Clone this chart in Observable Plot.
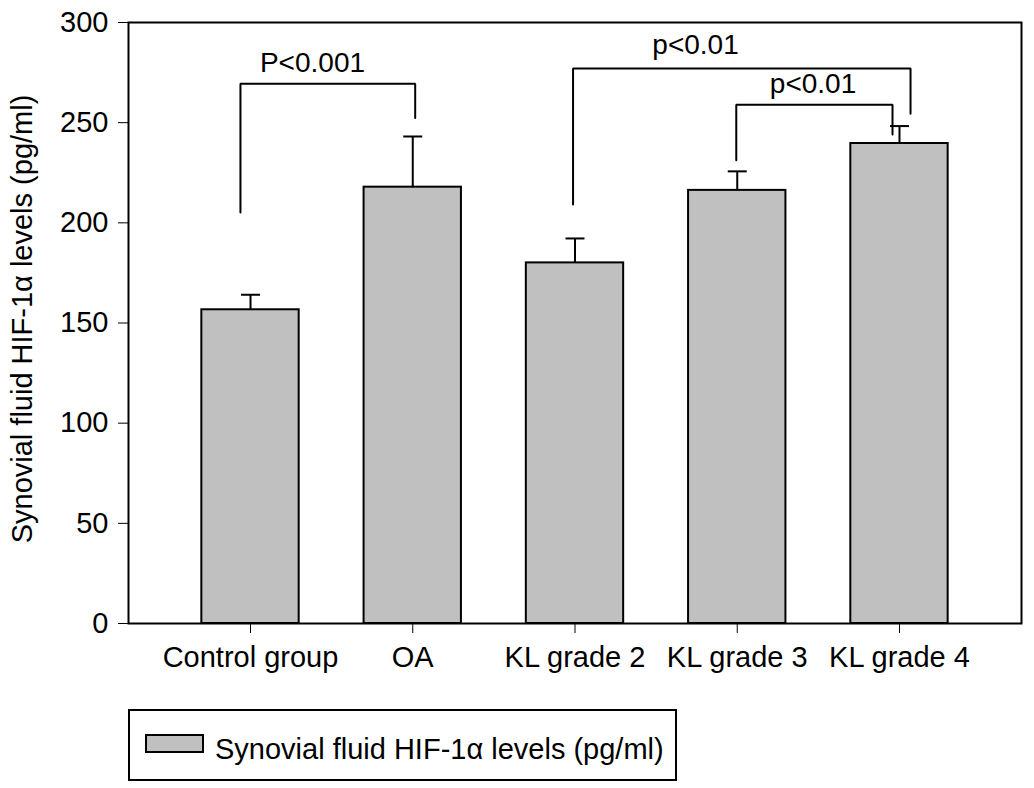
<!DOCTYPE html>
<html>
<head>
<meta charset="utf-8">
<script src="https://cdn.jsdelivr.net/npm/d3@7"></script>
<script src="https://cdn.jsdelivr.net/npm/@observablehq/plot@0.6"></script>
<style>
  body { margin: 0; background: #fff; font-family: "Liberation Sans", Arial, sans-serif; }
  #wrap { position: relative; width: 1034px; height: 788px; }
  #legend { position: absolute; left: 128px; top: 709px; width: 549px; height: 72px; border: 2px solid #000; box-sizing: border-box; }
  #legend .sw { position: absolute; left: 15px; top: 23px; width: 59px; height: 19px; background: #c0c0c0; border: 2px solid #000; box-sizing: border-box; }
  #legend .tx { position: absolute; left: 85px; top: 24px; font-size: 29px; line-height: 29px; white-space: nowrap; color: #000; }
  g[aria-label="y-axis"] .tick text { font-size: 27.5px; }
</style>
</head>
<body>
<div id="wrap">
  <div id="chart"></div>
  <div id="legend"><div class="sw"></div><div class="tx">Synovial fluid HIF-1α levels (pg/ml)</div></div>
</div>
<script>
// ---- data ----
const categories = ["Control group", "OA", "KL grade 2", "KL grade 3", "KL grade 4"];
const means = [156.6, 217.8, 180.0, 216.2, 239.6];
const errors = [7.5, 25.3, 12.2, 9.5, 8.7];
const yTicks = [0, 50, 100, 150, 200, 250, 300];
const yLabel = "Synovial fluid HIF-1α levels (pg/ml)";

// significance brackets (x in category-index units, y in pg/ml)
const bracketLabels = ["P<0.001", "p<0.01", "p<0.01"];
const bracketXLeft = [-0.062, 1.988, 2.994];
const bracketXRight = [1.015, 4.068, 3.957];
const bracketYLeft = [205.2, 209.2, 231.2];
const bracketYTop = [269.4, 277.1, 259.0];
const bracketYRight = [252.3, 254.5, 244.1];
const labelX = [0.382, 2.743, 3.467];
const labelY = [275.2, 284.1, 264.6];

// ---- derived tables ----
const idx = categories.map((_, i) => i);
const halfBar = 0.3;
const halfCap = 0.0585;
const bracketPts = [];
bracketLabels.forEach((_, b) => {
  bracketPts.push({b, x: bracketXLeft[b], y: bracketYLeft[b]});
  bracketPts.push({b, x: bracketXLeft[b], y: bracketYTop[b]});
  bracketPts.push({b, x: bracketXRight[b], y: bracketYTop[b]});
  bracketPts.push({b, x: bracketXRight[b], y: bracketYRight[b]});
});

const chart = Plot.plot({
  width: 1034,
  height: 700,
  marginLeft: 128,
  marginRight: 13,
  marginTop: 22,
  marginBottom: 77,
  style: {fontFamily: "Liberation Sans, Arial, sans-serif", fontSize: "29px", color: "#000", background: "#fff", overflow: "visible"},
  x: {
    type: "linear",
    domain: [-0.752, 4.752],
    ticks: idx,
    tickFormat: i => categories[i],
    tickSize: 10,
    tickPadding: 13,
    label: null
  },
  y: {
    domain: [0, 300],
    ticks: yTicks,
    tickSize: 10,
    tickPadding: 10,
    label: null
  },
  marks: [
    Plot.rect(idx, {x1: i => i - halfBar, x2: i => i + halfBar, y1: 0, y2: i => means[i], fill: "#c0c0c0", stroke: "#000", strokeWidth: 2}),
    Plot.link(idx, {x1: i => i, x2: i => i, y1: i => means[i], y2: i => means[i] + errors[i], stroke: "#000", strokeWidth: 2}),
    Plot.link(idx, {x1: i => i - halfCap, x2: i => i + halfCap, y1: i => means[i] + errors[i], y2: i => means[i] + errors[i], stroke: "#000", strokeWidth: 2}),
    Plot.line(bracketPts, {x: "x", y: "y", z: "b", stroke: "#000", strokeWidth: 2, strokeLinejoin: "miter", curve: "linear"}),
    Plot.text(bracketLabels, {x: (d, i) => labelX[i], y: (d, i) => labelY[i], text: d => d, fontSize: 28, lineAnchor: "bottom", fill: "#000"}),
    Plot.text([yLabel], {frameAnchor: "left", text: d => d, rotate: -90, textAnchor: "middle", lineAnchor: "bottom", dx: -97, dy: -4, fontSize: 29, fill: "#000"}),
    Plot.frame({stroke: "#000", strokeWidth: 2})
  ]
});
document.getElementById("chart").appendChild(chart);
</script>
</body>
</html>
